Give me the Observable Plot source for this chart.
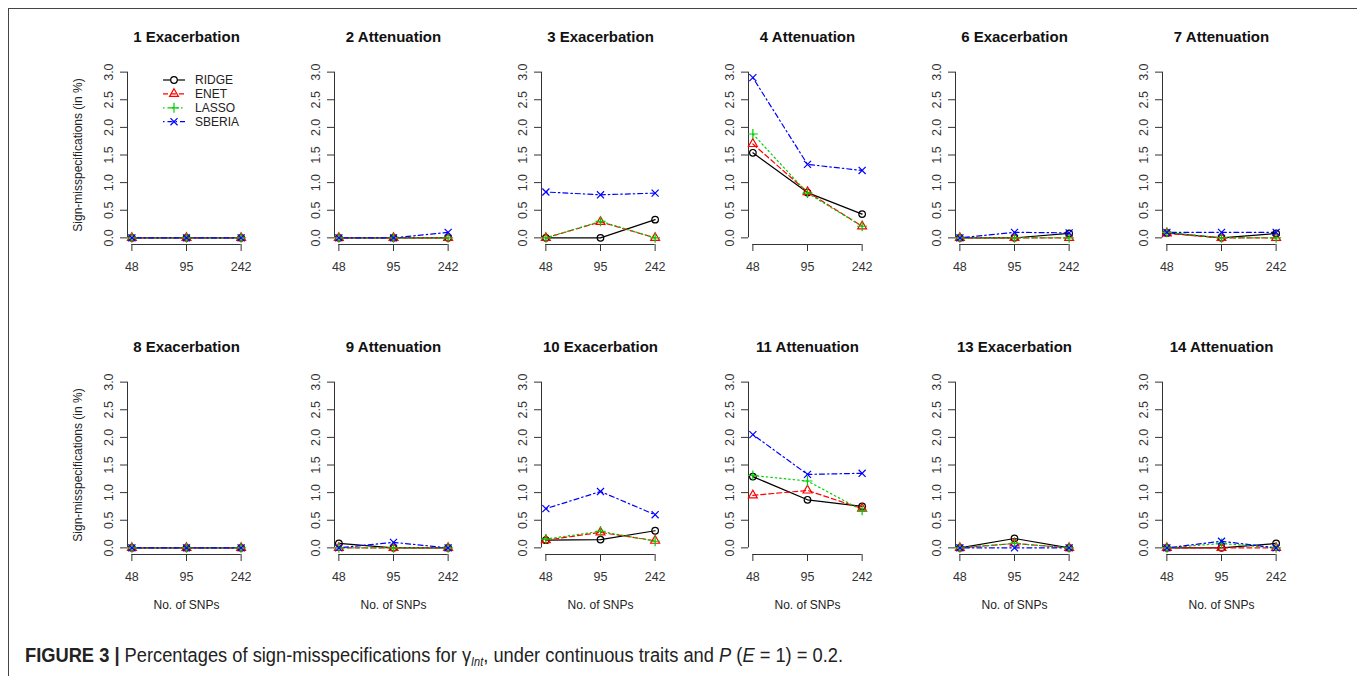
<!DOCTYPE html>
<html><head><meta charset="utf-8">
<script src="https://cdn.jsdelivr.net/npm/d3@7"></script>
<script src="https://cdn.jsdelivr.net/npm/@observablehq/plot@0.6"></script>
<style>
body{margin:0;background:#fff;font-family:"Liberation Sans",Arial,sans-serif;}
#fig{position:relative;width:1357px;height:676px;overflow:hidden;background:#fff;}
#frame{position:absolute;left:8px;top:8px;right:-2px;bottom:-2px;border-left:1px solid #444;border-top:1px solid #444;z-index:5;pointer-events:none;}
.panel{position:absolute;}
#legend{position:absolute;left:150px;top:68px;}
#caption{position:absolute;left:25px;top:645px;font-size:20px;line-height:20px;white-space:nowrap;transform-origin:0 0;color:#222;font-family:"Liberation Sans Narrow","Liberation Sans",Arial,sans-serif;}
#caption sub{font-size:12px;vertical-align:-4px;}
</style></head><body><div id="fig"><div id="frame"></div></div>
<script>
// ---- data ----
const snps = ["48", "95", "242"];
const methods = ["RIDGE", "ENET", "LASSO", "SBERIA"];
const panelTitles = ["1 Exacerbation", "2 Attenuation", "3 Exacerbation", "4 Attenuation", "6 Exacerbation", "7 Attenuation",
                     "8 Exacerbation", "9 Attenuation", "10 Exacerbation", "11 Attenuation", "13 Exacerbation", "14 Attenuation"];
const ridge  = [[0,0,0],[0,0,0],[0,0,0.33],[1.54,0.82,0.43],[0,0,0.08],[0.09,0,0.08],
                [0,0,0],[0.08,0,0],[0.14,0.15,0.31],[1.29,0.87,0.75],[0,0.17,0],[0,0,0.08]];
const enet   = [[0,0,0],[0,0,0],[0,0.29,0],[1.70,0.83,0.21],[0,0,0],[0.08,0,0],
                [0,0,0],[0,0,0],[0.14,0.28,0.13],[0.95,1.04,0.71],[0,0.08,0],[0,0,0]];
const lasso  = [[0,0,0],[0,0,0],[0,0.30,0],[1.88,0.81,0.21],[0,0,0],[0.10,0,0],
                [0,0,0],[0,0,0],[0.16,0.30,0.12],[1.31,1.21,0.68],[0,0.08,0],[0,0.08,0]];
const sberia = [[0,0,0],[0,0,0.10],[0.83,0.78,0.81],[2.90,1.33,1.22],[0,0.10,0.09],[0.10,0.10,0.10],
                [0,0,0],[0,0.10,0],[0.71,1.02,0.60],[2.05,1.33,1.35],[0,0,0],[0,0.12,0]];
const yTicks = [0, 0.5, 1, 1.5, 2, 2.5, 3];
const yAxisTitle = "Sign-misspecifications (in %)";
const xAxisTitle = "No. of SNPs";

// ---- styles ----
const colors = ["#000000", "#ff0000", "#00cd00", "#0000ff"];
const dashes = [null, "5,3", "1.5,3", "1.5,3,5,3"];
const symbols = ["circle", "triangle", "plus", "times"];
const series = [ridge, enet, lasso, sberia];
const R = 3.3;

const xIdx = snps.map((_, i) => i + 1);
const xDom = [1 - 0.08, 3 + 0.08];
const yDom = [0 - 0.12, 3 + 0.12];

const W = 207, H = 310, mL = 60, mT = 55, plotW = 118, plotH = 179;
const fig = document.getElementById("fig");

panelTitles.forEach((title, p) => {
  const col = p % 6, row = Math.floor(p / 6);
  const data = [];
  methods.forEach((m, k) => series[k][p].forEach((v, i) => data.push({method: m, i: i + 1, v})));
  const marks = [
    Plot.ruleX([xDom[0]], {y1: yTicks[0], y2: yTicks[yTicks.length - 1], stroke: "#333"}),
    Plot.ruleY([yDom[0]], {x1: xIdx[0], x2: xIdx[xIdx.length - 1], stroke: "#333"}),
    Plot.axisY({ticks: yTicks, tickSize: 7, tickFormat: () => "", label: null, stroke: "#333"}),
    Plot.axisX({ticks: xIdx, tickSize: 7, tickFormat: () => "", label: null, stroke: "#333"}),
    Plot.text(yTicks, {frameAnchor: "left", y: d => d, text: d => d.toFixed(1), rotate: -90, dx: -19,
      textAnchor: "middle", lineAnchor: "middle", fill: "#333", fontSize: 12.5}),
    Plot.text(xIdx, {x: d => d, frameAnchor: "bottom", dy: 22, text: d => snps[d - 1],
      textAnchor: "middle", lineAnchor: "middle", fill: "#333", fontSize: 12.5}),
    Plot.text([title], {frameAnchor: "top", dy: -28.5, textAnchor: "middle", lineAnchor: "middle",
      fontWeight: "bold", fontSize: 15, fill: "#111"}),
    ...methods.map((m, k) => Plot.line(data.filter(d => d.method === m), {x: "i", y: "v", stroke: colors[k], strokeDasharray: dashes[k], strokeWidth: 1.2})),
    ...methods.map((m, k) => Plot.dot(data.filter(d => d.method === m), {x: "i", y: "v", symbol: () => symbols[k], stroke: colors[k], fill: "none", r: R, strokeWidth: 1.2}))
  ];
  if (col === 0) marks.push(Plot.text([yAxisTitle], {frameAnchor: "left", dx: -49, rotate: -90,
    textAnchor: "middle", lineAnchor: "middle", fill: "#222", fontSize: 12}));
  if (row === 1) marks.push(Plot.text([xAxisTitle], {frameAnchor: "bottom", dy: 51,
    textAnchor: "middle", lineAnchor: "middle", fill: "#222", fontSize: 12}));
  const svg = Plot.plot({
    width: W, height: H,
    marginLeft: mL, marginRight: W - mL - plotW, marginTop: mT, marginBottom: H - mT - plotH,
    x: {type: "linear", domain: xDom},
    y: {type: "linear", domain: yDom},
    symbol: {type: "identity"},
    style: {fontFamily: "'Liberation Sans', Arial, sans-serif", background: "transparent", overflow: "visible"},
    marks
  });
  const div = document.createElement("div");
  div.className = "panel";
  div.style.left = (66.7 + 207 * col) + "px";
  div.style.top = (10.1 + 310 * row) + "px";
  div.appendChild(svg);
  fig.appendChild(div);
});

// ---- legend (panel 1) ----
const lg = d3.create("svg").attr("id", "legend").attr("width", 110).attr("height", 70)
  .style("font-family", "'Liberation Sans', Arial, sans-serif");
methods.forEach((m, k) => {
  const y = 12 + 13.9 * k;
  const g = lg.append("g").attr("transform", `translate(0,${y})`);
  g.append("line").attr("x1", 13).attr("x2", 35).attr("stroke", colors[k]).attr("stroke-width", 1.2)
    .attr("stroke-dasharray", dashes[k]);
  const sym = {circle: d3.symbolCircle, triangle: d3.symbolTriangle, plus: d3.symbolPlus, times: d3.symbolTimes}[symbols[k]];
  g.append("path").attr("transform", "translate(24,0)").attr("d", d3.symbol(sym, Math.PI * R * R)())
    .attr("fill", k === 0 ? "#fff" : "none").attr("stroke", colors[k]).attr("stroke-width", 1.2);
  g.append("text").attr("x", 45).attr("dy", "0.35em").attr("font-size", 12).attr("fill", "#222").text(m);
});
fig.appendChild(lg.node());

// ---- caption ----
const cap = document.createElement("div");
cap.id = "caption";
cap.innerHTML = '<b>FIGURE 3 |</b> Percentages of sign-misspecifications for γ<sub><i>Int</i></sub>, under continuous traits and <i>P</i> (<i>E</i> = 1) = 0.2.';
fig.appendChild(cap);
const w = cap.getBoundingClientRect().width;
cap.style.transform = `scaleX(${818 / w})`;
</script></body></html>
